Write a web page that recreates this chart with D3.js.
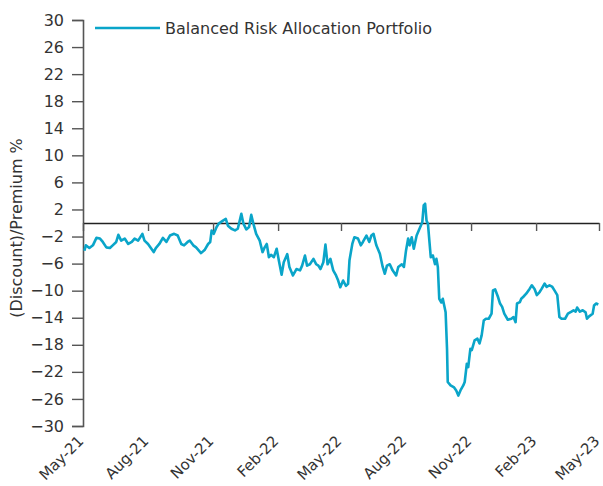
<!DOCTYPE html>
<html>
<head>
<meta charset="utf-8">
<script src="https://cdn.jsdelivr.net/npm/d3@7"></script>
<style>
  body { margin: 0; background: #fff; }
  text { font-family: "DejaVu Sans", sans-serif; fill: #333; }
</style>
</head>
<body>
<div id="chart"></div>
<script>
// series
var seriesName = "Balanced Risk Allocation Portfolio";
var dates = [
  "2021-05-03","2021-05-05","2021-05-10","2021-05-15","2021-05-20","2021-05-25","2021-05-29","2021-06-03","2021-06-08","2021-06-12",
  "2021-06-17","2021-06-20","2021-06-24","2021-06-29","2021-07-04","2021-07-09","2021-07-13","2021-07-18","2021-07-24","2021-07-27",
  "2021-08-01","2021-08-05","2021-08-09","2021-08-12","2021-08-17","2021-08-22","2021-08-27","2021-09-01","2021-09-07","2021-09-12",
  "2021-09-17","2021-09-21","2021-09-26","2021-09-29","2021-10-04","2021-10-08","2021-10-15","2021-10-20","2021-10-25","2021-10-28",
  "2021-10-30","2021-11-02","2021-11-06","2021-11-09","2021-11-13","2021-11-15","2021-11-19","2021-11-22","2021-11-27","2021-12-02",
  "2021-12-06","2021-12-11","2021-12-14","2021-12-18","2021-12-22","2021-12-25","2021-12-28","2022-01-01","2022-01-06","2022-01-10",
  "2022-01-13","2022-01-16","2022-01-19","2022-01-22","2022-01-26","2022-01-30","2022-02-02","2022-02-06","2022-02-09","2022-02-14",
  "2022-02-17","2022-02-22","2022-02-27","2022-03-04","2022-03-07","2022-03-11","2022-03-14","2022-03-18","2022-03-23","2022-03-27",
  "2022-03-30","2022-04-02","2022-04-06","2022-04-09","2022-04-12","2022-04-16","2022-04-20","2022-04-24","2022-04-27","2022-04-30",
  "2022-05-04","2022-05-08","2022-05-11","2022-05-13","2022-05-17","2022-05-20","2022-05-25","2022-05-29","2022-06-01","2022-06-06",
  "2022-06-10","2022-06-13","2022-06-16","2022-06-20","2022-06-25","2022-06-29","2022-07-02","2022-07-05","2022-07-09","2022-07-13",
  "2022-07-18","2022-07-21","2022-07-26","2022-07-29","2022-08-01","2022-08-04","2022-08-06","2022-08-09","2022-08-12","2022-08-16",
  "2022-08-19","2022-08-24","2022-08-26","2022-08-28","2022-08-30","2022-09-01","2022-09-03","2022-09-05","2022-09-08","2022-09-11",
  "2022-09-13","2022-09-15","2022-09-17","2022-09-20","2022-09-22","2022-09-26","2022-09-28","2022-09-29","2022-10-03","2022-10-08",
  "2022-10-11","2022-10-14","2022-10-17","2022-10-21","2022-10-23","2022-10-26","2022-10-28","2022-10-31","2022-11-02","2022-11-06",
  "2022-11-10","2022-11-13","2022-11-16","2022-11-19","2022-11-22","2022-11-26","2022-11-30","2022-12-02","2022-12-05","2022-12-09",
  "2022-12-12","2022-12-15","2022-12-18","2022-12-23","2022-12-28","2022-12-31","2023-01-03","2023-01-05","2023-01-09","2023-01-11",
  "2023-01-14","2023-01-18","2023-01-23","2023-01-26","2023-01-30","2023-02-02","2023-02-06","2023-02-09","2023-02-13","2023-02-16",
  "2023-02-20","2023-02-24","2023-02-27","2023-03-03","2023-03-06","2023-03-09","2023-03-14","2023-03-18","2023-03-23","2023-03-26",
  "2023-03-29","2023-03-31","2023-04-04","2023-04-08","2023-04-12","2023-04-14","2023-04-17","2023-04-22","2023-04-24","2023-04-27",
  "2023-04-30"
];
var values = [
  -4.1,-3.3,-3.7,-3.3,-2.2,-2.3,-2.8,-3.6,-3.7,-3.3,
  -2.8,-1.75,-2.6,-2.3,-3.1,-2.8,-2.3,-2.6,-1.6,-2.6,
  -3.1,-3.7,-4.3,-3.7,-3.1,-2.2,-2.8,-1.85,-1.6,-1.85,
  -3.1,-3.3,-2.8,-2.6,-3.3,-3.6,-4.45,-4.0,-3.1,-2.8,
  -1.1,-1.6,-0.6,-0.1,0.2,0.35,0.6,-0.4,-0.85,-1.1,
  -0.85,1.35,-0.1,-0.95,-0.6,1.2,-0.1,-1.6,-2.6,-4.3,
  -3.6,-3.1,-5.05,-4.7,-5.05,-3.8,-5.5,-7.65,-5.8,-4.6,
  -6.5,-7.75,-6.8,-7.0,-6.3,-4.8,-6.3,-6.1,-5.3,-6.1,
  -6.3,-6.8,-5.8,-3.2,-6.1,-5.3,-7.0,-7.75,-8.5,-9.5,
  -8.5,-9.3,-9.0,-5.5,-3.1,-2.1,-2.3,-3.3,-2.8,-1.85,
  -2.8,-1.85,-1.6,-3.3,-4.55,-6.5,-7.5,-6.3,-6.1,-7.0,
  -7.75,-6.5,-6.1,-6.5,-4.05,-2.3,-3.3,-2.1,-3.8,-1.85,
  -1.1,0.1,2.6,2.85,0.35,-0.1,-2.6,-5.05,-4.8,-6.1,
  -5.3,-6.5,-11.2,-11.75,-11.2,-13.2,-18.6,-23.5,-24.0,-24.3,
  -24.75,-25.5,-24.75,-24.0,-23.5,-20.8,-21.3,-18.6,-18.8,-17.35,
  -17.1,-17.8,-16.6,-14.4,-14.15,-14.15,-13.4,-9.95,-9.8,-10.9,
  -11.9,-12.4,-13.4,-14.3,-14.15,-13.9,-14.65,-11.9,-11.7,-11.2,
  -10.9,-10.45,-9.7,-9.2,-9.8,-10.65,-10.2,-9.7,-8.95,-9.45,
  -9.2,-9.45,-9.95,-10.65,-13.9,-14.15,-14.15,-13.4,-13.1,-12.9,
  -13.1,-12.5,-13.1,-12.9,-13.2,-14.15,-13.8,-13.4,-12.2,-11.9,
  -12.05
];

// axis ticks
var yTicks = [30, 26, 22, 18, 14, 10, 6, 2, -2, -6, -10, -14, -18, -22, -26, -30];
var xTicks = ["2021-05-01","2021-08-01","2021-11-01","2022-02-01","2022-05-01","2022-08-01","2022-11-01","2023-02-01","2023-05-01"];
var yTitle = "(Discount)/Premium %";

var parse = d3.timeParse("%Y-%m-%d");
var data = dates.map(function(d, i) { return { date: parse(d), value: values[i] }; });
var xTickDates = xTicks.map(parse);

var W = 603, H = 486;
var margin = { top: 20, right: 4, bottom: 60, left: 83 };
var width = W - margin.left - margin.right,
    height = H - margin.top - margin.bottom;

var svg = d3.select("#chart").append("svg")
    .attr("width", W)
    .attr("height", H)
  .append("g")
    .attr("transform", "translate(" + margin.left + "," + margin.top + ")");

var x = d3.scaleTime()
    .domain([xTickDates[0], xTickDates[xTickDates.length - 1]])
    .range([0, width]);

var y = d3.scaleLinear()
    .domain([-30, 30])
    .range([height, 0]);

// y axis
var yAxis = d3.axisLeft(y)
    .tickValues(yTicks)
    .tickFormat(d3.format("d"))
    .tickSize(11)
    .tickPadding(8);

var gy = svg.append("g").attr("class", "y-axis").call(yAxis);
gy.select(".domain").attr("stroke", "#555").attr("stroke-width", 1.6);
gy.selectAll(".tick line").attr("stroke", "#555").attr("stroke-width", 1.4);
gy.selectAll(".tick text").style("font-size", "16px").attr("fill", "#333");

// zero line with quarter ticks
var xAxis = d3.axisBottom(x)
    .tickValues(xTickDates)
    .tickFormat("")
    .tickSizeInner(8)
    .tickSizeOuter(0);

var gx = svg.append("g")
    .attr("class", "x-axis")
    .attr("transform", "translate(0," + y(0) + ")")
    .call(xAxis);
gx.select(".domain").attr("stroke", "#222").attr("stroke-width", 1.5);
gx.selectAll(".tick line").attr("stroke", "#555").attr("stroke-width", 1.4);

// bottom labels
var xLabels = d3.axisBottom(x)
    .tickValues(xTickDates)
    .tickFormat(d3.timeFormat("%b-%y"))
    .tickSize(0);

var gl = svg.append("g")
    .attr("transform", "translate(0," + height + ")")
    .call(xLabels);
gl.select(".domain").remove();
gl.selectAll(".tick text")
    .style("font-size", "15px")
    .attr("fill", "#333")
    .attr("text-anchor", "end")
    .attr("dy", null)
    .attr("y", 0)
    .attr("transform", "translate(1,16) rotate(-45)");

// line
var line = d3.line()
    .x(function(d) { return x(d.date); })
    .y(function(d) { return y(d.value); });

svg.append("path")
    .datum(data)
    .attr("fill", "none")
    .attr("stroke", "#0aa5c9")
    .attr("stroke-width", 2.6)
    .attr("stroke-linejoin", "round")
    .attr("d", line);

// legend
var legend = svg.append("g").attr("transform", "translate(12,8)");
legend.append("line")
    .attr("x1", 0).attr("x2", 65)
    .attr("y1", 0).attr("y2", 0)
    .attr("stroke", "#0aa5c9")
    .attr("stroke-width", 2.6);
legend.append("text")
    .attr("x", 70)
    .attr("y", 6)
    .style("font-size", "16px")
    .text(seriesName);

// y title
svg.append("text")
    .attr("transform", "translate(" + (-61) + "," + (height / 2 + 5) + ") rotate(-90)")
    .style("text-anchor", "middle")
    .style("font-size", "16px")
    .text(yTitle);
</script>
</body>
</html>
